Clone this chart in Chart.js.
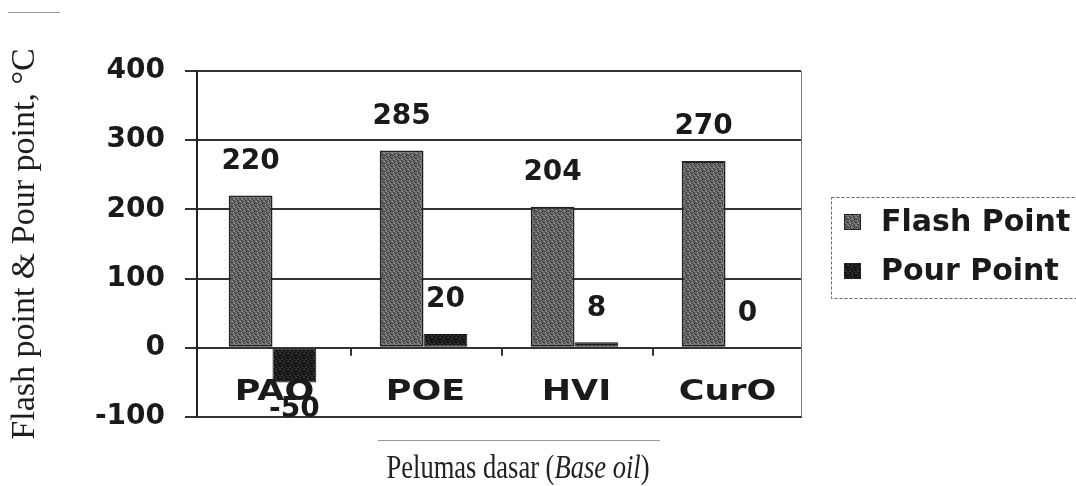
<!DOCTYPE html>
<html>
<head>
<meta charset="utf-8">
<script src="https://cdn.jsdelivr.net/npm/chart.js@4/dist/chart.umd.min.js"></script>
<style>
  html, body { margin: 0; padding: 0; background: #fff; }
  canvas { display: block; }
</style>
</head>
<body>
<canvas id="chart" width="1076" height="486"></canvas>
<script>
"use strict";

const categories = ['PAO', 'POE', 'HVI', 'CurO'];
const flashPoint = [220, 285, 204, 270];
const pourPoint = [-50, 20, 8, 0];
const seriesNames = ['Flash Point', 'Pour Point'];
const yTicks = [-100, 0, 100, 200, 300, 400];
const yTitle = 'Flash point & Pour point, \u00B0C';
const xTitleParts = [['Pelumas dasar (', false], ['Base oil', true], [')', false]];

const sansBold = { family: "'DejaVu Sans', sans-serif", weight: 'bold', size: 28 };
const serif = "'Liberation Serif', 'DejaVu Serif', serif";

// stippled fill like the scanned bars
function speckle(base, dark, light) {
  const rows = ['01002100', '20010012', '00120001', '10002010',
                '02100100', '00010210', '12000001', '00201020'];
  const c = document.createElement('canvas');
  c.width = 8; c.height = 8;
  const g = c.getContext('2d');
  for (let y = 0; y < 8; y++)
    for (let x = 0; x < 8; x++) {
      const k = rows[y][x];
      g.fillStyle = k === '1' ? dark : (k === '2' ? light : base);
      g.fillRect(x, y, 1, 1);
    }
  return g.createPattern(c, 'repeat');
}

const ctx = document.getElementById('chart').getContext('2d');
const flashFill = speckle('#666666', '#333333', '#9a9a9a');
const pourFill = speckle('#1c1c1c', '#0a0a0a', '#4a4a4a');

const valueLabels = {
  id: 'valueLabels',
  afterDatasetsDraw(chart) {
    const c = chart.ctx;
    const xs = chart.scales.x;
    c.save();
    c.font = `bold ${sansBold.size}px ${sansBold.family}`;
    c.fillStyle = '#1a1a1a';
    c.textAlign = 'center';
    c.textBaseline = 'middle';
    // category names sit inside the plot, under the zero line (wider, as scanned)
    categories.forEach((name, i) => {
      c.save();
      c.translate(xs.getPixelForValue(i) + 2, chart.chartArea.bottom - 24);
      c.scale(1.25, 1);
      c.fillText(name, 0, 0);
      c.restore();
    });
    chart.data.datasets.forEach((ds, di) => {
      chart.getDatasetMeta(di).data.forEach((bar, i) => {
        const v = ds.data[i];
        c.fillText(String(v), bar.x, v < 0 ? bar.y + 27 : bar.y - 34);
      });
    });
    c.restore();
  }
};

const extras = {
  id: 'extras',
  afterDraw(chart) {
    const c = chart.ctx;
    const a = chart.chartArea;
    const xs = chart.scales.x, ys = chart.scales.y;
    c.save();
    // right border of plot
    c.strokeStyle = '#777';
    c.lineWidth = 1;
    c.beginPath();
    c.moveTo(a.right + 0.5, a.top);
    c.lineTo(a.right + 0.5, a.bottom);
    c.stroke();
    // category separators on the zero line
    const y0 = ys.getPixelForValue(0);
    c.strokeStyle = '#333';
    c.lineWidth = 2;
    for (let i = 0; i < categories.length - 1; i++) {
      const x = (xs.getPixelForValue(i) + xs.getPixelForValue(i + 1)) / 2 + 3;
      c.beginPath();
      c.moveTo(x, y0);
      c.lineTo(x, y0 + 8);
      c.stroke();
    }
    // scan rule lines
    c.strokeStyle = '#999';
    c.lineWidth = 1;
    c.beginPath();
    c.moveTo(378, 440.5); c.lineTo(660, 440.5);
    c.moveTo(8, 12.5); c.lineTo(60, 12.5);
    c.stroke();

    // x axis title with italic part, narrowed like the scan
    c.fillStyle = '#222';
    c.textBaseline = 'middle';
    const sx = 0.78;
    const fonts = xTitleParts.map(p => (p[1] ? 'italic ' : '') + '34px ' + serif);
    let total = 0;
    xTitleParts.forEach((p, i) => { c.font = fonts[i]; total += c.measureText(p[0]).width; });
    c.save();
    c.translate(518, 469);
    c.scale(sx, 1);
    let x = -total / 2;
    c.textAlign = 'left';
    xTitleParts.forEach((p, i) => {
      c.font = fonts[i];
      c.fillText(p[0], x, 0);
      x += c.measureText(p[0]).width;
    });
    c.restore();

    // legend
    const lx = a.right + 30, ly = 197, lw = 260, lh = 101;
    c.strokeStyle = '#666';
    c.lineWidth = 1;
    c.setLineDash([3, 2]);
    c.strokeRect(lx + 0.5, ly + 0.5, lw, lh);
    c.setLineDash([]);
    c.font = `bold 30px ${sansBold.family}`;
    c.textAlign = 'left';
    chart.data.datasets.forEach((ds, i) => {
      const cy = ly + 25 + i * 49;
      c.fillStyle = ds.backgroundColor;
      c.fillRect(lx + 13, cy - 8, 17, 16);
      c.strokeStyle = '#222';
      c.strokeRect(lx + 13.5, cy - 7.5, 16, 15);
      c.fillStyle = '#1a1a1a';
      c.fillText(ds.label, lx + 50, cy + 1);
    });
    c.restore();
  }
};

new Chart(ctx, {
  type: 'bar',
  data: {
    labels: categories,
    datasets: [
      { label: seriesNames[0], data: flashPoint, backgroundColor: flashFill,
        borderColor: '#222', borderWidth: 2, borderSkipped: false },
      { label: seriesNames[1], data: pourPoint, backgroundColor: pourFill,
        borderColor: '#111', borderWidth: 1, borderSkipped: false }
    ]
  },
  options: {
    responsive: false,
    animation: false,
    layout: { padding: { left: 0, right: 275, top: 71, bottom: 0 } },
    categoryPercentage: 0.58,
    barPercentage: 1.0,
    plugins: { legend: { display: false }, tooltip: { enabled: false } },
    scales: {
      x: {
        grid: { display: false, drawTicks: false },
        border: { display: true, color: '#333', width: 2 },
        ticks: { display: false },
        afterFit(scale) { scale.height = 69; }
      },
      y: {
        min: -100, max: 400,
        afterBuildTicks(scale) { scale.ticks = yTicks.map(v => ({ value: v })); },
        grid: { color: '#333', lineWidth: 2, tickLength: 12 },
        border: { display: true, color: '#222', width: 2 },
        ticks: { font: sansBold, color: '#1a1a1a', padding: 20 },
        title: { display: true, text: yTitle, color: '#1e1e1e',
                 font: { family: serif, size: 34 }, padding: { top: 5, bottom: 0 } },
        afterFit(scale) { scale.width = 197; }
      }
    }
  },
  plugins: [valueLabels, extras]
});
</script>
</body>
</html>
